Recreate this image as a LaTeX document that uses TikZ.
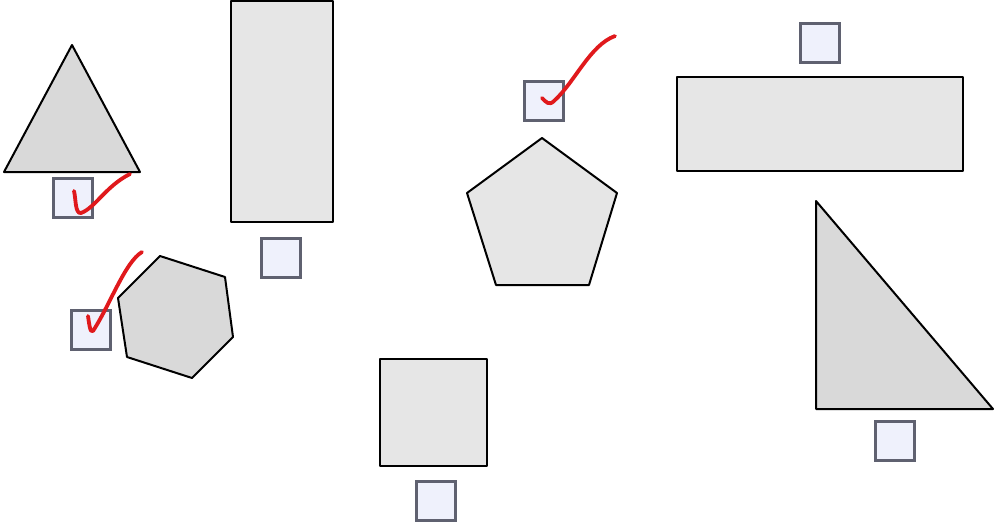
\documentclass[tikz,border=0pt]{standalone}
\usepackage{tikz}
\usetikzlibrary{positioning}
\definecolor{shapedark}{HTML}{D9D9D9}
\definecolor{shapelight}{HTML}{E6E6E6}
\definecolor{boxfill}{HTML}{EFF1FC}
\definecolor{boxedge}{HTML}{5F6170}
\definecolor{tickred}{HTML}{E0191C}
\begin{document}
\begin{tikzpicture}[
    x=1pt, y=-1pt,
    darkshape/.style={draw=black, line width=2pt, fill=shapedark, line join=round},
    lightshape/.style={draw=black, line width=2pt, fill=shapelight, line join=round},
    chkbox/.style={draw=boxedge, line width=2.4pt, fill=boxfill,
                   minimum size=39pt, inner sep=0pt},
    tick/.style={draw=tickred, line width=3.8pt, line cap=round, line join=round}
  ]
    \useasboundingbox (0,0) rectangle (996,525);

    % shapes
    \draw[darkshape] (72,45) -- (140,172) -- (4,172) -- cycle;
    \draw[lightshape] (231,1) rectangle (333,222);
    \draw[darkshape] (160,256) -- (225,277) -- (233,337) -- (192,378)
      -- (127,357) -- (118,298) -- cycle;
    \draw[lightshape] (542,138) -- (617,193) -- (589,285) -- (496,285)
      -- (467,193) -- cycle;
    \draw[lightshape] (677,77) rectangle (963,171);
    \draw[darkshape] (816,201) -- (993,409) -- (816,409) -- cycle;
    \draw[lightshape] (380,359) rectangle (487,466);

    % boxes
    \node[chkbox] (triBox) at (73,198) {};
    \node[chkbox] (tallBox) at (281,258) {};
    \node[chkbox] (hexBox) at (91,330) {};
    \node[chkbox] (pentBox) at (544,101) {};
    \node[chkbox] (wideBox) at (820,43) {};
    \node[chkbox] (rightBox) at (895,441) {};
    \node[chkbox] (sqBox) at (436,501) {};

    % ticks
    \draw[tick] (74,191) .. controls (76,199) and (75,214) .. (81,213)
      .. controls (95,208) and (106,186) .. (130,174);
    \draw[tick] (88,316) .. controls (89,322) and (90,334) .. (93,331)
      .. controls (110,305) and (125,262) .. (142,252);
    \draw[tick] (542,98) .. controls (546,102) and (549,106) .. (554,101)
      .. controls (575,82) and (590,45) .. (615,36);
  \end{tikzpicture}
\end{document}
